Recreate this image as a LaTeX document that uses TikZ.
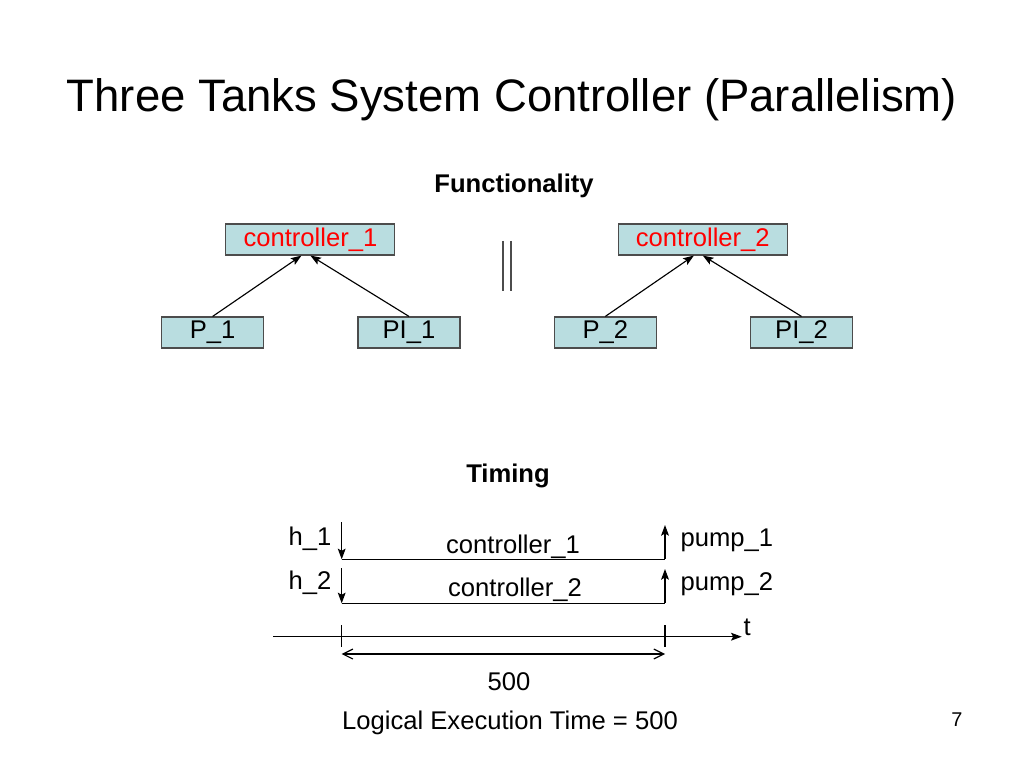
\documentclass[tikz,border=0pt]{standalone}
\usepackage{fontspec}
\setmainfont{Liberation Sans}
\usetikzlibrary{arrows.meta}
\definecolor{boxblue}{RGB}{185,221,224}
\tikzset{
  lbl/.style={inner sep=0pt, font=\fontsize{18}{21}\selectfont},
  head/.style={inner sep=0pt, font=\bfseries\fontsize{18}{21}\selectfont},
  box/.style={draw=black!70, fill=boxblue, minimum height=21.8pt, inner sep=0pt, font=\fontsize{18}{21}\selectfont},
  ctrl/.style={box, minimum width=118.8pt, text=red},
  part/.style={box, minimum width=71.7pt},
}

\begin{document}
\begin{tikzpicture}[x=0.703125pt, y=-0.703125pt, line width=0.8pt,
    >={Stealth[length=7.5pt, width=5.5pt, inset=1.5pt]}]
   \useasboundingbox (0,0) rectangle (1024,768);

   \node[anchor=base, inner sep=0pt, font=\fontsize{32}{38}\selectfont] (title) at (512,112)
      {Three Tanks System Controller (Parallelism)};

   \node[head, anchor=base] (func) at (514,193) {Functionality};
   \node[ctrl] (c1) at (310.4,239.5) {controller\_1};
   \node[ctrl] (c2) at (702.8,239.5) {controller\_2};
   \node[part] (p1) at (212.6,332.5) {P\_1};
   \node[part] (pi1) at (409,332.5) {PI\_1};
   \node[part] (p2) at (605.3,332.5) {P\_2};
   \node[part] (pi2) at (801.5,332.5) {PI\_2};

   \draw[->] (p1.north) -- ([xshift=-6.3pt]c1.south);
   \draw[->] (pi1.north) -- (c1.south);
   \draw[->] (p2.north) -- ([xshift=-6.3pt]c2.south);
   \draw[->] (pi2.north) -- (c2.south);

   \foreach \x in {503, 511}
      \draw[black!70](\x,241) -- (\x,291);

   \node[head, anchor=base] (timing) at (508,482) {Timing};

   \coordinate (a1) at (341.7,522);
   \coordinate (s1) at (341.7,559.3);
   \coordinate (e1) at (665,559.3);
   \coordinate (b1) at (665,525);
   \coordinate (a2) at (341.7,568);
   \coordinate (s2) at (341.7,603.3);
   \coordinate (e2) at (665,603.3);
   \coordinate (b2) at (665,569);
   \draw[->] (a1) -- (s1);
   \draw (s1) -- (e1);
   \draw[->] (e1) -- (b1);
   \draw[->] (a2) -- (s2);
   \draw (s2) -- (e2);
   \draw[->] (e2) -- (b2);

   \node[lbl, anchor=base east] (h1) at (332,545) {h\_1};
   \node[lbl, anchor=base] (ctl1) at (513,553) {controller\_1};
   \node[lbl, anchor=base west] (pump1) at (680,546) {pump\_1};
   \node[lbl, anchor=base east] (h2) at (332,589) {h\_2};
   \node[lbl, anchor=base] (ctl2) at (515,596) {controller\_2};
   \node[lbl, anchor=base west] (pump2) at (680,590) {pump\_2};

   \coordinate (t0) at (273,636.7);
   \coordinate (t1) at (741.7,636.7);
   \draw[->] (t0) -- (t1);
   \node[lbl, anchor=base west] (tlbl) at (743,635) {t};
   \foreach \x in {341.7, 665}
      \draw(\x,625) -- (\x,646.7);

   \coordinate (d0) at (341.7,654);
   \coordinate (d1) at (665,654);
   \draw[{Straight Barb[length=7pt, width=7pt]}-{Straight Barb[length=7pt, width=7pt]}] (d0) -- (d1);

   \node[lbl, anchor=base] (len) at (509,690) {500};
   \node[lbl, anchor=base] (let) at (510,729) {Logical Execution Time = 500};
   \node[anchor=base, inner sep=0pt, font=\fontsize{14}{17}\selectfont] (page) at (957,726) {7};
\end{tikzpicture}
\end{document}
